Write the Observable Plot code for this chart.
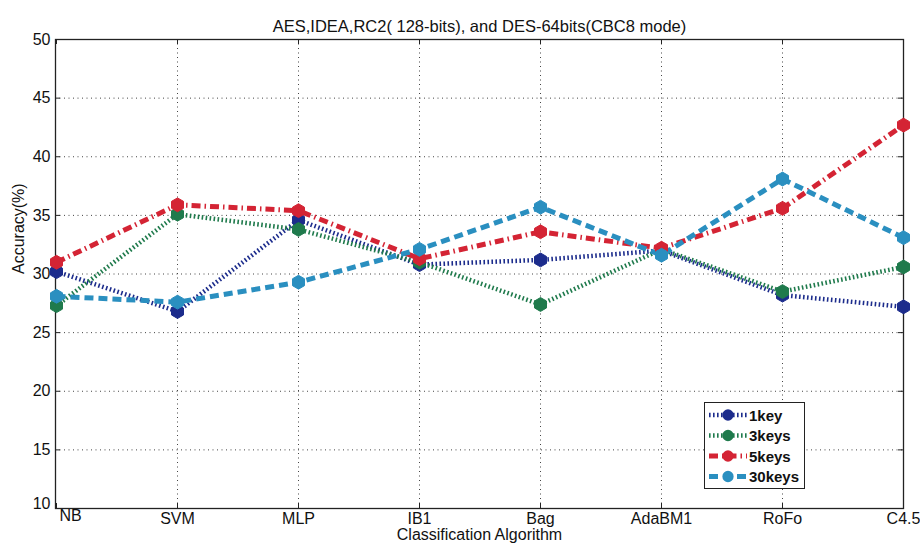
<!DOCTYPE html>
<html>
<head>
<meta charset="utf-8">
<script src="https://cdn.jsdelivr.net/npm/d3@7"></script>
<script src="https://cdn.jsdelivr.net/npm/@observablehq/plot@0.6"></script>
<style>
  html, body { margin: 0; padding: 0; background: #fff; }
  #wrap { position: relative; width: 920px; height: 550px; font-family: "Liberation Sans", Arial, sans-serif; }
  #legend { position: absolute; left: 704px; top: 402px; width: 101px; height: 87px;
            border: 1.5px solid #222; background: #fff; box-sizing: border-box; }
  #legend svg { display: block; }
</style>
</head>
<body>
<div id="wrap"></div>
<script>
// Classification algorithms on the x axis
const algorithms = ["NB", "SVM", "MLP", "IB1", "Bag", "AdaBM1", "RoFo", "C4.5"];

// Accuracy (%) per algorithm for each key count
const key1  = [30.2, 26.8, 34.6, 30.8, 31.2, 32.0, 28.2, 27.2];
const keys3 = [27.3, 35.1, 33.8, 31.0, 27.4, 32.1, 28.5, 30.6];
const keys5 = [31.0, 35.9, 35.4, 31.3, 33.6, 32.2, 35.6, 42.7];
const keys30 = [28.1, 27.6, 29.3, 32.1, 35.7, 31.6, 38.1, 33.1];

const seriesNames = ["1key", "3keys", "5keys", "30keys"];
const yTicks = [10, 15, 20, 25, 30, 35, 40, 45, 50];

const seriesStyle = {
  "1key":   {color: "#1c2c8c", dash: "1.6,2.4", width: 4.5},
  "3keys":  {color: "#1f7a4c", dash: "1.6,2.4", width: 4.5},
  "5keys":  {color: "#d42434", dash: "9,4,1.5,4", width: 5},
  "30keys": {color: "#2a8fc0", dash: "9,5", width: 5}
};

const values = {"1key": key1, "3keys": keys3, "5keys": keys5, "30keys": keys30};
const rows = seriesNames.flatMap(s => algorithms.map((a, i) => ({series: s, algo: a, acc: values[s][i]})));

const W = 920, H = 550;
const mL = 55, mR = 17, mT = 39, mB = 42;
const plotW = W - mL - mR, plotH = H - mT - mB;
const font = "'Liberation Sans', Arial, sans-serif";

const lineMarks = seriesNames.map(s => Plot.line(rows.filter(r => r.series === s), {
  x: "algo", y: "acc",
  stroke: seriesStyle[s].color,
  strokeWidth: seriesStyle[s].width,
  strokeDasharray: seriesStyle[s].dash,
  strokeLinecap: "butt"
}));
const dotMarks = seriesNames.map(s => Plot.dot(rows.filter(r => r.series === s), {
  x: "algo", y: "acc",
  symbol: "hexagon", r: 6,
  fill: seriesStyle[s].color, stroke: seriesStyle[s].color, strokeWidth: 1
}));

const chart = Plot.plot({
  width: W, height: H,
  marginLeft: mL, marginRight: mR, marginTop: mT, marginBottom: mB,
  style: {fontFamily: font, fontSize: "15px", color: "#111", background: "#fff"},
  x: {type: "point", domain: algorithms, padding: 0},
  y: {domain: [10, 50]},
  marks: [
    // dotted grid
    Plot.ruleY(yTicks.slice(1, -1), {y: d => d, stroke: "#444", strokeWidth: 1, strokeDasharray: "1,3.5"}),
    Plot.ruleX(algorithms.slice(1, -1), {x: d => d, stroke: "#444", strokeWidth: 1, strokeDasharray: "1,3.5"}),
    // inward tick marks on all four sides
    Plot.tickY(yTicks, {y: d => d, stroke: "#222", insetRight: plotW - 5}),
    Plot.tickY(yTicks, {y: d => d, stroke: "#222", insetLeft: plotW - 5}),
    Plot.tickX(algorithms, {x: d => d, stroke: "#222", insetTop: plotH - 5}),
    Plot.tickX(algorithms, {x: d => d, stroke: "#222", insetBottom: plotH - 5}),
    Plot.frame({stroke: "#222", strokeWidth: 1.3}),
    Plot.axisY(yTicks.slice(1), {tickSize: 0, tickPadding: 5, fontSize: 16, label: null}),
    // the bottom "10" sits a little above the corner
    Plot.text([10], {y: d => d, frameAnchor: "left", dx: -5, dy: -5, textAnchor: "end", fontSize: 16, text: d => String(d)}),
    Plot.axisX(algorithms.slice(1), {tickSize: 0, tickPadding: 4, fontSize: 16, label: null}),
    // first category label nudged inside so it clears the corner
    Plot.text(["NB"], {x: d => d, frameAnchor: "bottom", dx: 14, dy: 12, fontSize: 16, text: d => d}),
    ...lineMarks,
    ...dotMarks,
    // title and axis titles
    Plot.text(["AES,IDEA,RC2( 128-bits), and DES-64bits(CBC8 mode)"], {
      frameAnchor: "top", dy: -19, fontSize: 16.5, text: d => d, fill: "#111"
    }),
    Plot.text(["Classification Algorithm"], {
      frameAnchor: "bottom", dy: 31, fontSize: 16, text: d => d, fill: "#111"
    }),
    Plot.text(["Accuracy(%)"], {
      frameAnchor: "left", dx: -37, rotate: -90, fontSize: 16, text: d => d, fill: "#111"
    })
  ]
});

const wrap = document.getElementById("wrap");
wrap.appendChild(chart);

// legend box with line samples and markers
const legend = document.createElement("div");
legend.id = "legend";
const ns = "http://www.w3.org/2000/svg";
const lsvg = document.createElementNS(ns, "svg");
lsvg.setAttribute("width", 98);
lsvg.setAttribute("height", 84);
seriesNames.forEach((s, i) => {
  const st = seriesStyle[s];
  const cy = 12 + i * 20.5;
  const ln = document.createElementNS(ns, "line");
  ln.setAttribute("x1", 4); ln.setAttribute("x2", 42);
  ln.setAttribute("y1", cy); ln.setAttribute("y2", cy);
  ln.setAttribute("stroke", st.color);
  ln.setAttribute("stroke-width", st.width);
  ln.setAttribute("stroke-dasharray", st.dash);
  lsvg.appendChild(ln);
  const hex = document.createElementNS(ns, "path");
  hex.setAttribute("d", d3.symbol(d3.symbolHexagon ?? d3.symbolCircle, 100)());
  hex.setAttribute("transform", `translate(23,${cy})`);
  hex.setAttribute("fill", st.color);
  lsvg.appendChild(hex);
  const tx = document.createElementNS(ns, "text");
  tx.setAttribute("x", 44); tx.setAttribute("y", cy + 5.5);
  tx.setAttribute("font-size", 15); tx.setAttribute("font-weight", "bold");
  tx.setAttribute("font-family", font);
  tx.setAttribute("fill", "#111");
  tx.textContent = s;
  lsvg.appendChild(tx);
});
legend.appendChild(lsvg);
wrap.appendChild(legend);
</script>
</body>
</html>
